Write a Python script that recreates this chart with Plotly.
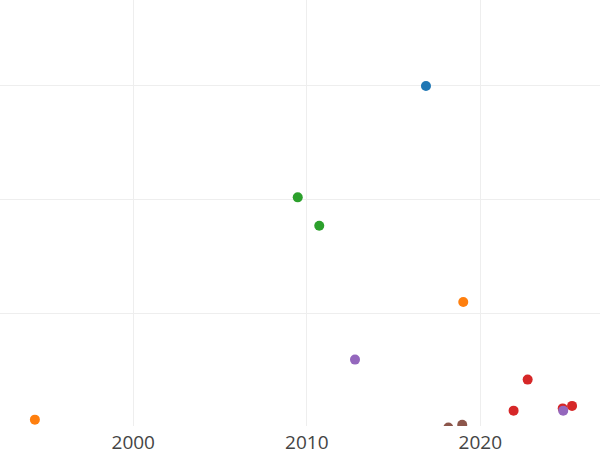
import plotly.graph_objects as go

# Data (x = year, y = value)
blue_x = [2016.87]
blue_y = [300]
orange_x = [1994.33, 2019.02]
orange_y = [6.5, 110]
green_x = [2009.48, 2010.72]
green_y = [202, 177]
red_x = [2022.73, 2021.92, 2024.75, 2025.29]
red_y = [41.7, 14.4, 16.4, 18.6]
purple_x = [2012.78, 2024.78]
purple_y = [59.3, 14.4]
brown_x = [2018.16, 2018.96]
brown_y = [-0.5, 2.0]

series = [
    ("Series 1", blue_x, blue_y),
    ("Series 2", orange_x, orange_y),
    ("Series 3", green_x, green_y),
    ("Series 4", red_x, red_y),
    ("Series 5", purple_x, purple_y),
    ("Series 6", brown_x, brown_y),
]

x_tick_vals = [2000, 2010, 2020]
x_tick_text = ["2000", "2010", "2020"]
y_tick_vals = [0, 100, 200, 300]

fig = go.Figure()
for name, xs, ys in series:
    fig.add_trace(go.Scatter(x=xs, y=ys, mode="markers", name=name,
                             marker=dict(size=10)))

fig.update_layout(
    template="none",
    width=600, height=450,
    margin=dict(l=0, r=0, t=0, b=24, pad=0),
    showlegend=False,
    paper_bgcolor="white", plot_bgcolor="white",
    font=dict(family="Open Sans", size=19, color="#444"),
    xaxis=dict(range=[1992.32, 2026.9], tickvals=x_tick_vals, ticktext=x_tick_text,
               showgrid=True, gridcolor="#eee", gridwidth=1, zeroline=False,
               showline=False, ticks="", automargin=False, ticklabelstandoff=3),
    yaxis=dict(range=[0.9, 375.6], tickvals=y_tick_vals, showticklabels=False,
               showgrid=True, gridcolor="#eee", gridwidth=1, zeroline=False,
               showline=False, ticks="", automargin=False),
)

fig.write_html("out.html", config={"displayModeBar": False},
               post_script="document.body.style.margin='0';document.body.style.padding='0';")
